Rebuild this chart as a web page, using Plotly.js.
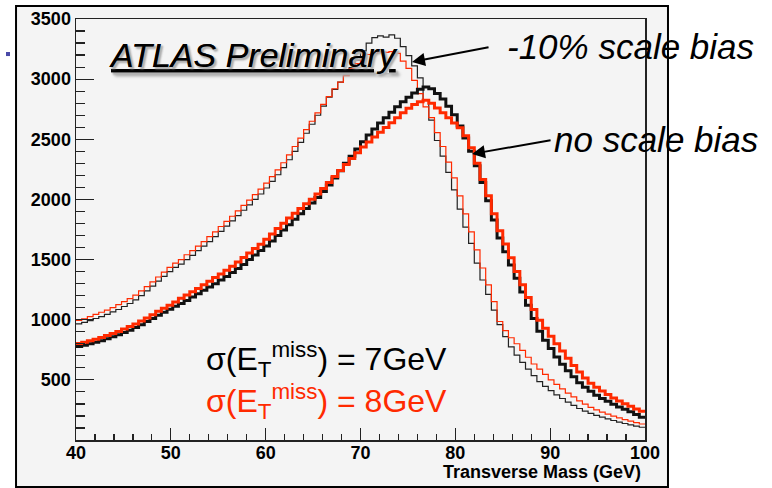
<!DOCTYPE html>
<html>
<head>
<meta charset="utf-8">
<script src="https://cdn.plot.ly/plotly-3.0.1.min.js"></script>
<style>
  html, body { margin: 0; padding: 0; background: #ffffff; }
  #chart { width: 772px; height: 488px; }
</style>
</head>
<body>
<div id="chart"></div>
<script>
// Histogram: 100 bins of 0.6 GeV from 40 to 100 GeV (transverse mass)
const massMin = 40;
const massMax = 100;
const nBins = 100;

// -10% scale bias, sigma(ETmiss) = 7 GeV (thin black)
const biasSigma7 = [
  965, 978, 992, 1010, 1025, 1045, 1065, 1085, 1110, 1135,
  1165, 1200, 1240, 1280, 1320, 1360, 1400, 1435, 1462, 1500,
  1535, 1575, 1612, 1650, 1690, 1735, 1778, 1822, 1865, 1910,
  1955, 2000, 2045, 2095, 2150, 2205, 2265, 2330, 2400, 2475,
  2550, 2625, 2700, 2775, 2850, 2915, 2975, 3035, 3095, 3160,
  3235, 3300, 3345, 3360, 3350, 3368, 3340, 3270, 3195, 3110,
  3010, 2830, 2660, 2490, 2360, 2225, 2080, 1920, 1770, 1635,
  1470, 1330, 1210, 1080, 960, 860, 775, 705, 645, 590,
  535, 485, 445, 410, 375, 345, 315, 288, 262, 240,
  222, 205, 190, 176, 162, 148, 137, 126, 116, 106
];

// -10% scale bias, sigma(ETmiss) = 8 GeV (thin red)
const biasSigma8 = [
  995, 1008, 1025, 1045, 1062, 1080, 1100, 1125, 1150, 1175,
  1205, 1240, 1275, 1315, 1355, 1395, 1435, 1470, 1500, 1540,
  1575, 1612, 1650, 1690, 1730, 1775, 1818, 1860, 1905, 1950,
  1995, 2040, 2085, 2135, 2190, 2245, 2305, 2370, 2440, 2510,
  2580, 2650, 2720, 2790, 2855, 2920, 2975, 3030, 3085, 3130,
  3170, 3205, 3215, 3226, 3222, 3228, 3215, 3150, 3090, 2990,
  2880, 2770, 2680, 2555, 2440, 2310, 2180, 2030, 1880, 1730,
  1580, 1430, 1290, 1150, 985, 910, 850, 800, 745, 688,
  632, 590, 545, 500, 462, 425, 390, 358, 325, 298,
  272, 250, 232, 215, 198, 184, 170, 157, 145, 133
];

// no scale bias, sigma(ETmiss) = 7 GeV (thick black)
const noBiasSigma7 = [
  778, 788, 800, 812, 826, 842, 858, 875, 893, 912,
  935, 958, 985, 1010, 1038, 1062, 1088, 1112, 1135, 1160,
  1188, 1215, 1245, 1272, 1300, 1330, 1360, 1392, 1425, 1460,
  1500, 1538, 1575, 1612, 1655, 1700, 1745, 1790, 1835, 1880,
  1925, 1970, 2015, 2065, 2120, 2178, 2238, 2300, 2360, 2420,
  2480, 2535, 2585, 2635, 2680, 2725, 2770, 2812, 2850, 2885,
  2915, 2935, 2920, 2880, 2835, 2775, 2705, 2610, 2510, 2400,
  2280, 2140, 1990, 1830, 1680, 1565, 1455, 1345, 1230, 1120,
  1010, 905, 830, 760, 690, 630, 575, 525, 475, 438,
  405, 372, 345, 322, 298, 275, 255, 235, 212, 190
];

// no scale bias, sigma(ETmiss) = 8 GeV (thick red)
const noBiasSigma8 = [
  802, 812, 825, 838, 852, 868, 885, 903, 922, 943,
  965, 990, 1015, 1042, 1070, 1095, 1120, 1148, 1178, 1205,
  1232, 1260, 1290, 1320, 1350, 1380, 1412, 1445, 1480, 1518,
  1555, 1592, 1628, 1668, 1712, 1758, 1802, 1845, 1885, 1925,
  1965, 2002, 2045, 2090, 2140, 2190, 2240, 2290, 2340, 2388,
  2435, 2478, 2520, 2558, 2598, 2638, 2680, 2720, 2758, 2790,
  2812, 2825, 2800, 2760, 2720, 2680, 2635, 2595, 2530, 2430,
  2300, 2165, 2030, 1880, 1740, 1630, 1515, 1400, 1290, 1185,
  1085, 995, 930, 862, 800, 740, 680, 620, 565, 515,
  472, 438, 408, 378, 350, 325, 302, 280, 258, 238
];

const xTickVals = [40, 50, 60, 70, 80, 90, 100];
const yTickVals = [0, 500, 1000, 1500, 2000, 2500, 3000, 3500];
const yTickText = ['', '500', '1000', '1500', '2000', '2500', '3000', '3500'];

const labelTitle = 'ATLAS Preliminary';
const labelBias = '-10% scale bias';
const labelNoBias = 'no scale bias';
const labelSigma7 = '\u03c3(E<sub>T</sub><sup>miss</sup>) = 7GeV';
const labelSigma8 = '\u03c3(E<sub>T</sub><sup>miss</sup>) = 8GeV';
const xTitle = 'Transverse Mass (GeV)';

// bin edges (library input built from the binning)
const binW = (massMax - massMin) / nBins;
const edges = [];
for (let i = 0; i <= nBins; i++) edges.push(massMin + i * binW);
function stepY(vals) { return vals.concat([vals[vals.length - 1]]); }

const RED = '#ff2a00';
const BLK = '#111111';
const FONT = 'Liberation Sans, Arial, Helvetica, sans-serif';

function hist(vals, color, width, name) {
  return {
    type: 'scatter', mode: 'lines', name: name,
    x: edges, y: stepY(vals),
    line: { shape: 'hv', color: color, width: width },
    hoverinfo: 'skip', showlegend: false
  };
}

const data = [
  hist(biasSigma7, '#222222', 1.2, '-10% bias, 7 GeV'),
  hist(biasSigma8, RED, 1.2, '-10% bias, 8 GeV'),
  hist(noBiasSigma7, BLK, 3, 'no bias, 7 GeV'),
  hist(noBiasSigma8, RED, 3, 'no bias, 8 GeV')
];

const layout = {
  width: 772, height: 488,
  margin: { l: 76, r: 127, t: 19, b: 48 },
  paper_bgcolor: '#ffffff',
  plot_bgcolor: '#f4f4f4',
  font: { family: FONT, color: '#000' },
  xaxis: {
    range: [massMin, massMax], tickmode: 'array', tickvals: xTickVals,
    ticks: 'inside', ticklen: 12, tickwidth: 1.2, tickcolor: '#222',
    ticklabelstandoff: -4,
    minor: { tickmode: 'linear', tick0: 40, dtick: 2, ticks: 'inside', ticklen: 6, tickwidth: 1.2, tickcolor: '#222', showgrid: false },
    showline: true, mirror: true, linecolor: '#222', linewidth: 1.5,
    showgrid: false, zeroline: false,
    tickfont: { family: FONT, size: 18, weight: 'bold', color: '#000' }
  },
  yaxis: {
    range: [0, 3500], tickmode: 'array', tickvals: yTickVals, ticktext: yTickText,
    ticks: 'inside', ticklen: 18, tickwidth: 1.2, tickcolor: '#222',
    minor: { tickmode: 'linear', tick0: 0, dtick: 100, ticks: 'inside', ticklen: 9, tickwidth: 1.2, tickcolor: '#222', showgrid: false },
    showline: true, mirror: true, linecolor: '#222', linewidth: 1.5,
    showgrid: false, zeroline: false,
    tickfont: { family: FONT, size: 18, weight: 'bold', color: '#000' }
  },
  shapes: [
    { type: 'rect', xref: 'paper', yref: 'paper', layer: 'below',
      x0: -0.1054, x1: 1.0404, y0: -0.1116, y1: 1.0309,
      fillcolor: '#f4f4f4', line: { color: '#000', width: 2 } },
    { type: 'rect', xref: 'paper', yref: 'paper', layer: 'above',
      x0: -0.123, x1: -0.116, y0: 0.912, y1: 0.9216,
      fillcolor: '#4a4aa8', line: { width: 0 } }
  ],
  annotations: [
    { xref: 'paper', yref: 'paper', x: 0.0545, y: 0.9145, xanchor: 'left', yanchor: 'middle',
      text: labelTitle, showarrow: false,
      font: { family: FONT, size: 34, style: 'italic', color: '#000', lineposition: 'under', shadow: '2px 2px 2px #b0b0b0' } },
    { xref: 'paper', yref: 'paper', x: 0.754, y: 0.9335, xanchor: 'left', yanchor: 'middle',
      text: labelBias, showarrow: false,
      font: { family: FONT, size: 35, style: 'italic', color: '#000' } },
    { xref: 'paper', yref: 'paper', x: 0.8366, y: 0.713, xanchor: 'left', yanchor: 'middle',
      text: labelNoBias, showarrow: false,
      font: { family: FONT, size: 35, style: 'italic', color: '#000' } },
    { xref: 'x', yref: 'y', x: 75.43, y: 3143, axref: 'x', ayref: 'y', ax: 83.66, ay: 3267,
      text: '', showarrow: true, arrowhead: 2, arrowsize: 1.3, arrowwidth: 2, arrowcolor: '#000' },
    { xref: 'x', yref: 'y', x: 81.76, y: 2378, axref: 'x', ayref: 'y', ax: 90.2, ay: 2494,
      text: '', showarrow: true, arrowhead: 2, arrowsize: 1.3, arrowwidth: 2, arrowcolor: '#000' },
    { xref: 'paper', yref: 'paper', x: 0.225, y: 0.192, xanchor: 'left', yanchor: 'middle',
      text: labelSigma7, showarrow: false,
      font: { family: FONT, size: 32, color: '#000' } },
    { xref: 'paper', yref: 'paper', x: 0.225, y: 0.0915, xanchor: 'left', yanchor: 'middle',
      text: labelSigma8, showarrow: false,
      font: { family: FONT, size: 32, color: RED } },
    { xref: 'paper', yref: 'paper', x: 0.9965, y: -0.077, xanchor: 'right', yanchor: 'middle',
      text: xTitle, showarrow: false,
      font: { family: FONT, size: 18, weight: 'bold', color: '#000' } }
  ]
};

Plotly.newPlot('chart', data, layout, { displayModeBar: false, staticPlot: true });
</script>
</body>
</html>
